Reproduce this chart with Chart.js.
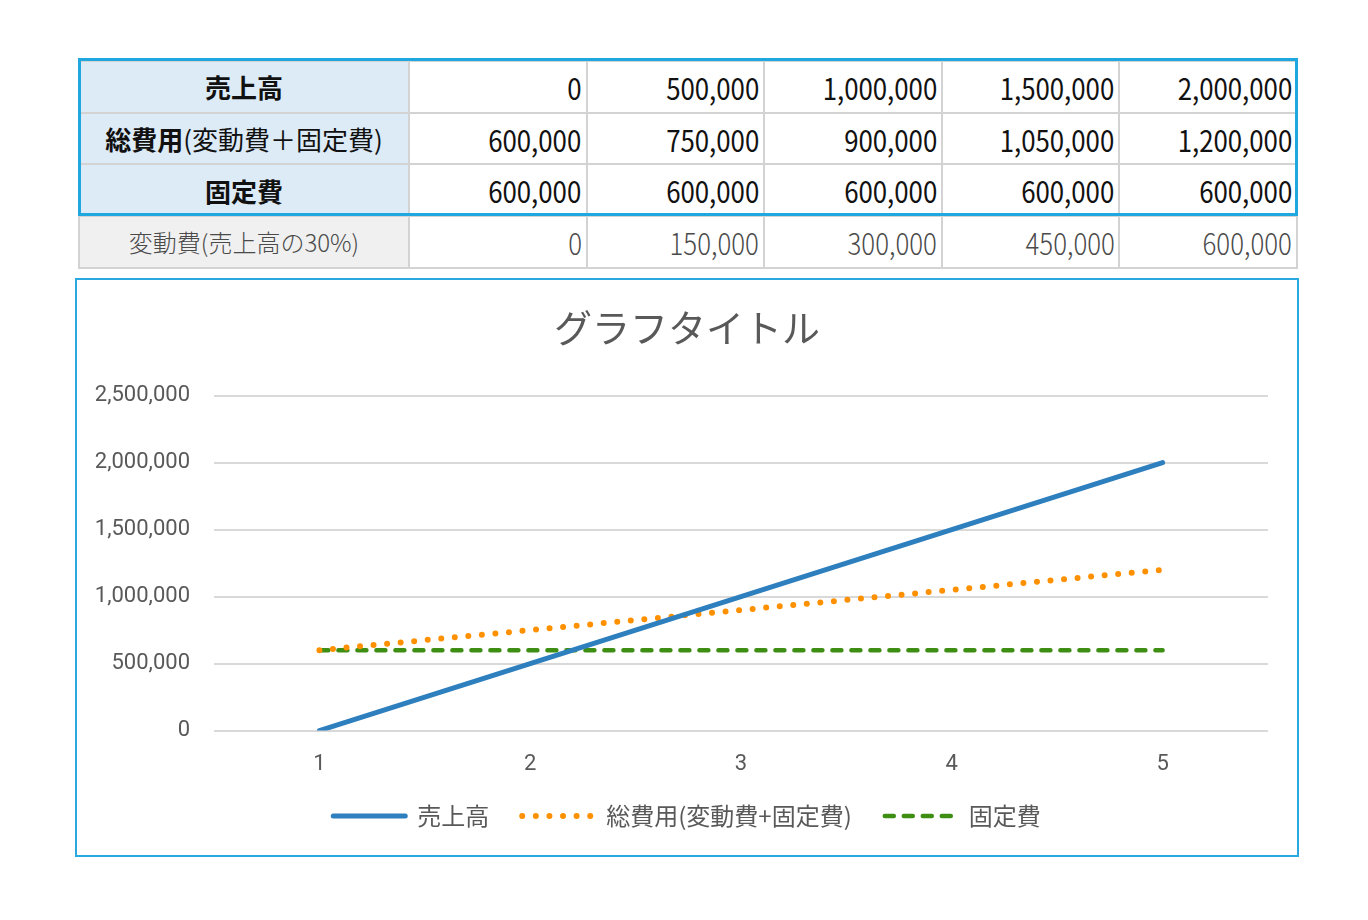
<!DOCTYPE html>
<html lang="ja">
<head>
<meta charset="utf-8">
<script src="https://cdn.jsdelivr.net/npm/chart.js@4/dist/chart.umd.min.js"></script>
<style>
  html, body { margin: 0; padding: 0; background: #fff; }
  body { width: 1368px; height: 920px; position: relative; font-family: "Noto Sans CJK JP", sans-serif; }
  #tbl { position: absolute; left: 78px; top: 60px; width: 1220px; border-collapse: collapse; table-layout: fixed; }
  #tbl td { border: 2px solid #d3d3d3; height: 49.7px; padding: 0 4px 0 0; text-align: right; font-size: 30px; color: #111; overflow: hidden; white-space: nowrap; }
  #tbl td.head { background: #ddebf7; text-align: center; font-size: 26px; padding: 0; }
  #tbl td.gray { background: #f0f0f0; text-align: center; font-size: 24px; color: #555; font-weight: 300; padding: 0; }
  #tbl tr.light td { color: #4a4a4a; font-weight: 300; }
  .num { display: inline-block; transform: scaleX(0.86); transform-origin: right center; }
  #outline { position: absolute; left: 78px; top: 58px; width: 1214px; height: 152px; border: 3px solid #1fa8e0; pointer-events: none; }
  #box { position: absolute; left: 75px; top: 278px; width: 1220px; height: 575px; border: 2px solid #29a9e0; }
  #box canvas { display: block; }
</style>
</head>
<body>
<table id="tbl"><colgroup><col style="width:330px"><col><col><col><col><col></colgroup><tbody></tbody></table>
<div id="outline"></div>
<div id="box"><canvas id="c" width="1220" height="575"></canvas></div>
<script>
const categories = ["1", "2", "3", "4", "5"];
const salesLabel = "売上高";
const totalLabel = "総費用(変動費+固定費)";
const fixedLabel = "固定費";
const variableLabel = "変動費(売上高の30%)";
const sales = [0, 500000, 1000000, 1500000, 2000000];
const totalCost = [600000, 750000, 900000, 1050000, 1200000];
const fixedCost = [600000, 600000, 600000, 600000, 600000];
const variableCost = [0, 150000, 300000, 450000, 600000];
const yTicks = [0, 500000, 1000000, 1500000, 2000000, 2500000];
const chartTitle = "グラフタイトル";

const fmt = v => v.toLocaleString("en-US");

// table
const tbody = document.querySelector("#tbl tbody");
const rows = [
  { head: '<b>売上高</b>', vals: sales, cls: "" , hc: "head"},
  { head: '<b>総費用</b>(変動費＋固定費)', vals: totalCost, cls: "", hc: "head" },
  { head: '<b>固定費</b>', vals: fixedCost, cls: "", hc: "head" },
  { head: variableLabel, vals: variableCost, cls: "light", hc: "gray" }
];
rows.forEach(r => {
  const tr = document.createElement("tr");
  if (r.cls) tr.className = r.cls;
  let html = '<td class="' + r.hc + '">' + r.head + '</td>';
  r.vals.forEach(v => { html += '<td><span class="num">' + fmt(v) + '</span></td>'; });
  tr.innerHTML = html;
  tbody.appendChild(tr);
});

const gray = "#595959";
new Chart(document.getElementById("c"), {
  type: "line",
  data: {
    labels: categories,
    datasets: [
      { label: salesLabel, data: sales, borderColor: "#2e7fbe", backgroundColor: "#2e7fbe",
        borderWidth: 5, borderCapStyle: "round", pointRadius: 0, tension: 0 },
      { label: totalLabel, data: totalCost, borderColor: "#ff9000", backgroundColor: "#ff9000",
        borderWidth: 6, borderDash: [0, 13.6], borderCapStyle: "round", pointRadius: 0, tension: 0 },
      { label: fixedLabel, data: fixedCost, borderColor: "#3f8e14", backgroundColor: "#3f8e14",
        borderWidth: 4.5, borderDash: [9, 10], borderCapStyle: "round", pointRadius: 0, tension: 0 }
    ]
  },
  options: {
    responsive: false,
    animation: false,
    layout: { padding: { top: 10, right: 0, left: 0, bottom: 17 } },
    plugins: {
      title: { display: true, text: chartTitle, color: gray,
        font: { family: "'Noto Sans CJK JP'", size: 38, weight: "normal" },
        padding: { top: 15, bottom: 45 } },
      legend: { position: "bottom",
        labels: { usePointStyle: true, pointStyle: "line", pointStyleWidth: 72, boxHeight: 10,
          color: gray, padding: 33,
          font: { family: "'Noto Sans CJK JP'", size: 24 },
          generateLabels: chart => {
            const items = Chart.defaults.plugins.legend.labels.generateLabels(chart);
            items.forEach(it => {
              const ds = chart.data.datasets[it.datasetIndex];
              it.lineDash = ds.borderDash || [];
              it.lineCap = "round";
              it.lineWidth = ds.borderWidth;
              it.strokeStyle = ds.borderColor;
              it.fillStyle = ds.borderColor;
            });
            return items;
          } } },
      tooltip: { enabled: false }
    },
    scales: {
      x: { offset: true,
        grid: { display: false, drawTicks: false },
        border: { display: false },
        afterFit: axis => { axis.height = axis.height - 28; },
        ticks: { color: gray, padding: 21, font: { family: "Roboto", size: 22 } } },
      y: { min: 0, max: 2500000,
        afterBuildTicks: axis => { axis.ticks = yTicks.map(v => ({ value: v })); },
        afterFit: axis => { axis.width = 137; },
        grid: { color: "#d9d9d9", lineWidth: 2, drawTicks: false },
        border: { display: false },
        ticks: { color: gray, padding: 24, font: { family: "Roboto", size: 22 },
          callback: v => fmt(v) } },
      yRight: { type: "linear", position: "right", min: 0, max: 2500000,
        afterFit: axis => { axis.width = 29; },
        grid: { display: false, drawTicks: false },
        border: { display: false },
        ticks: { display: false } }
    }
  }
});
</script>
</body>
</html>
